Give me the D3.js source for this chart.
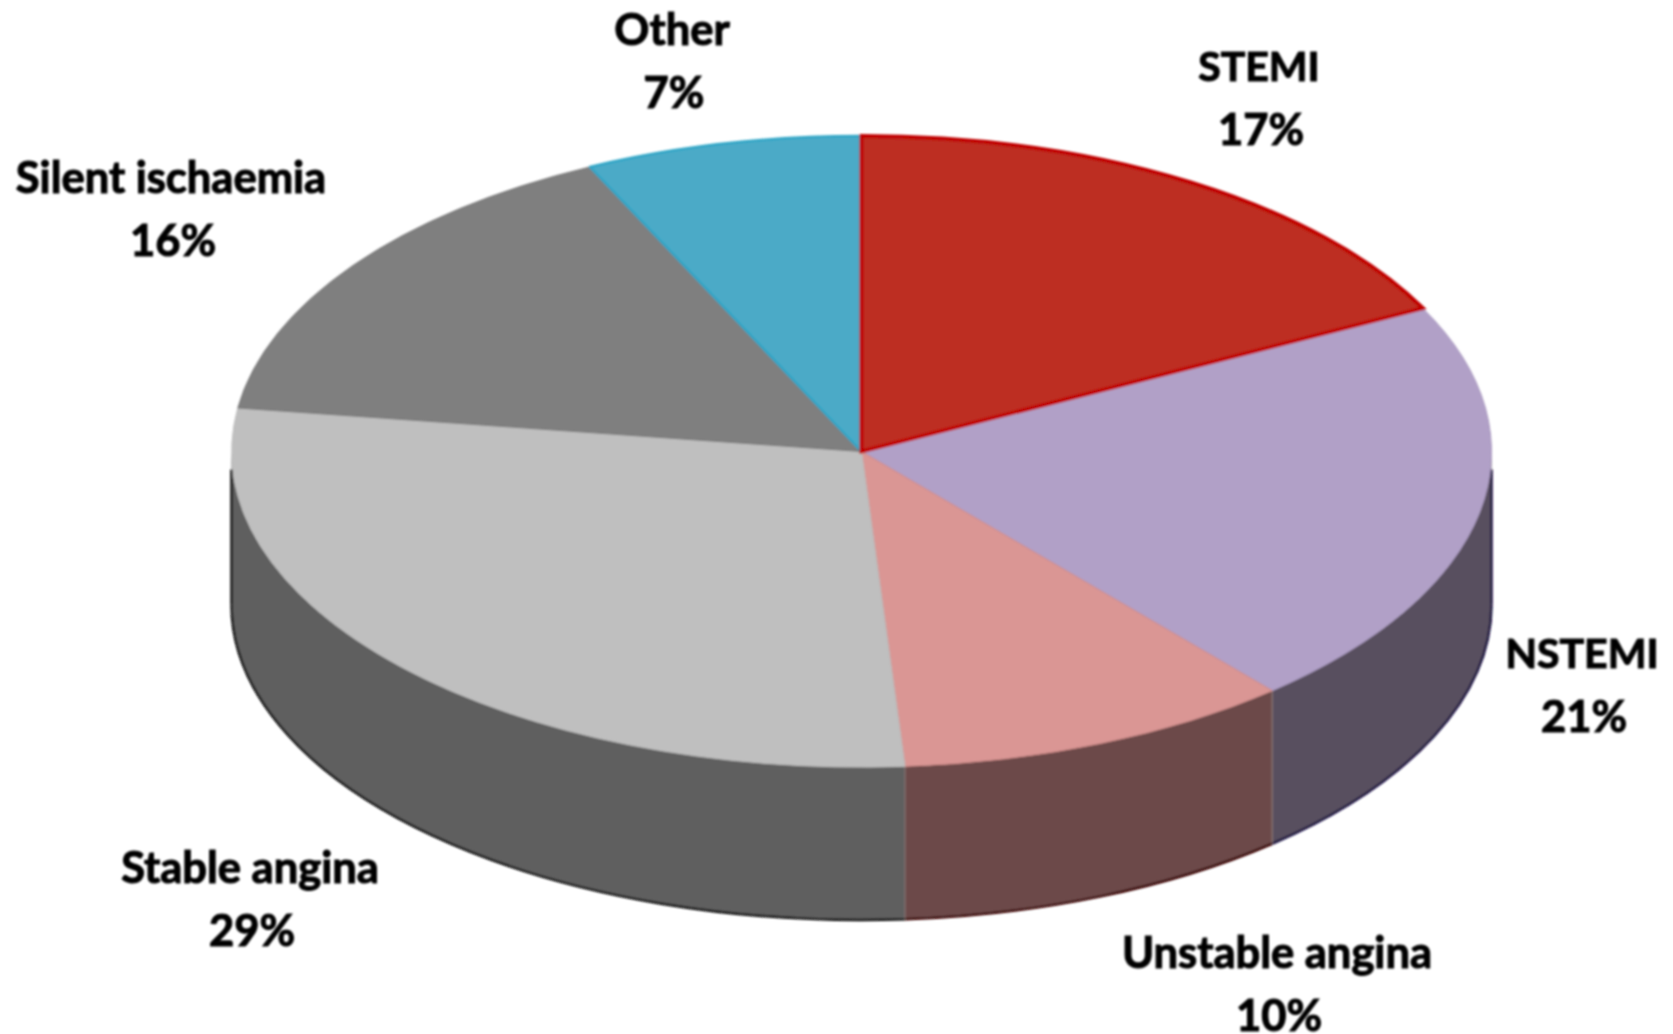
<!DOCTYPE html>
<html><head><meta charset="utf-8">
<script src="https://cdn.jsdelivr.net/npm/d3@7/dist/d3.min.js"></script>
<style>html,body{margin:0;background:#fff}svg{display:block}text{font-family:Lato,Carlito,sans-serif;font-weight:700;fill:#000;stroke:#000;stroke-width:1.1px}</style>
</head><body><svg id="c" width="1673" height="1034"></svg>
<script>
// Data
const categories = ["STEMI","NSTEMI","Unstable angina","Stable angina","Silent ischaemia","Other"];
const percentLabels = [17,21,10,29,16,7];
// Wedge shares as drawn (the picture's wedges differ slightly from the printed percentages)
const drawnShares = [17.5,21.2,10.2,28.3,15.7,7.1];
const topColors = ["#bd2e20","#b1a0c7","#da9694","#bfbfbf","#7f7f7f","#4baac7"];
const edgeColors = ["#c00000","#a695bd","#cf8a88","#bbbbbb","#777777","#2ea5c6"];
const wallColors = ["#6b1710","#58505f","#6c4a48","#5f5f5f","#404040","#255563"];
const wallEdges = ["#300","#1a1240","#3a0505","#111","#111","#111"];

// Layout
const W=1673,H=1034,cx=861.5,cy=451.5,rx=630,ry=315.5,depth=153;
const labelCenters=[[1259,67],[1582,654],[1277,953],[250,868],[171,178],[672,30]];
const lineGap=63;

const svg=d3.select("#c");
const defs=svg.append("defs");
defs.append("filter").attr("id","soft").attr("x","-5%").attr("y","-5%").attr("width","110%").attr("height","110%")
  .append("feGaussianBlur").attr("stdDeviation",0.8);

const pie=d3.pie().sort(null).value(d=>d.share);
const rows=categories.map((c,i)=>({c,share:drawnShares[i],pct:percentLabels[i],i}));
const arcs=pie(rows);
const arc=d3.arc().innerRadius(0).outerRadius(1);
const px=a=>cx+rx*Math.sin(a), py=a=>cy-ry*Math.cos(a);

const g=svg.append("g").attr("filter","url(#soft)");

// side walls: the part of each wedge on the near half of the rim
const front=arcs.map(d=>({d,a0:Math.max(d.startAngle,Math.PI/2),a1:Math.min(d.endAngle,3*Math.PI/2)})).filter(f=>f.a1>f.a0);
g.selectAll("path.wall").data(front).join("path").attr("class","wall")
 .attr("fill",f=>wallColors[f.d.index])
 .attr("d",f=>`M${px(f.a0)},${py(f.a0)}A${rx},${ry} 0 ${f.a1-f.a0>Math.PI?1:0} 1 ${px(f.a1)},${py(f.a1)}L${px(f.a1)},${py(f.a1)+depth}A${rx},${ry} 0 ${f.a1-f.a0>Math.PI?1:0} 0 ${px(f.a0)},${py(f.a0)+depth}Z`);
g.selectAll("path.rim").data(front).join("path").attr("class","rim")
 .attr("fill","none").attr("stroke",f=>wallEdges[f.d.index]).attr("stroke-width",2.5)
 .attr("d",f=>`M${px(f.a0)},${py(f.a0)+depth}A${rx},${ry} 0 ${f.a1-f.a0>Math.PI?1:0} 1 ${px(f.a1)},${py(f.a1)+depth}`);
// left and right tangent edges of the cylinder
g.selectAll("line.tan").data([[Math.PI/2,2],[3*Math.PI/2,3]]).join("line").attr("class","tan")
 .attr("x1",d=>px(d[0])).attr("x2",d=>px(d[0])).attr("y1",d=>py(d[0])+18).attr("y2",d=>py(d[0])+depth)
 .attr("stroke",(d,i)=>i?"#111":"#1a1240").attr("stroke-width",2.5);
// light seams between walls
g.selectAll("line.seam").data(front.slice(1)).join("line").attr("class","seam")
 .attr("x1",f=>px(f.a0)).attr("x2",f=>px(f.a0)).attr("y1",f=>py(f.a0)).attr("y2",f=>py(f.a0)+depth)
 .attr("stroke","#8c7a78").attr("stroke-width",1);

// top face
g.append("g").attr("transform",`translate(${cx},${cy}) scale(${rx},${ry})`)
 .selectAll("path").data(arcs).join("path")
 .attr("d",arc).attr("fill",d=>topColors[d.index])
 .attr("stroke",d=>edgeColors[d.index]).attr("stroke-width",d=>d.index===5?2.5:1)
 .attr("vector-effect","non-scaling-stroke").attr("stroke-linejoin","round");
// the red wedge's outline lies on top of its neighbours
g.append("g").attr("transform",`translate(${cx},${cy}) scale(${rx},${ry})`)
 .append("path").datum(arcs[0]).attr("d",arc).attr("fill",topColors[0]).attr("stroke",edgeColors[0])
 .attr("stroke-width",4).attr("vector-effect","non-scaling-stroke");

// labels (all-capitals names run narrower in the reference's face)
const lab=svg.append("g").attr("filter","url(#soft)").attr("text-anchor","middle");
rows.forEach((r,i)=>{
  const [x,y]=labelCenters[i];
  lab.append("text").attr("x",x).attr("y",y).attr("dy","0.35em")
     .attr("font-size",r.c===r.c.toUpperCase()?41:43.5).text(r.c);
  lab.append("text").attr("x",x+2).attr("y",y+lineGap).attr("dy","0.35em").attr("font-size",43.5).text(r.pct+"%");
});
</script></body></html>
